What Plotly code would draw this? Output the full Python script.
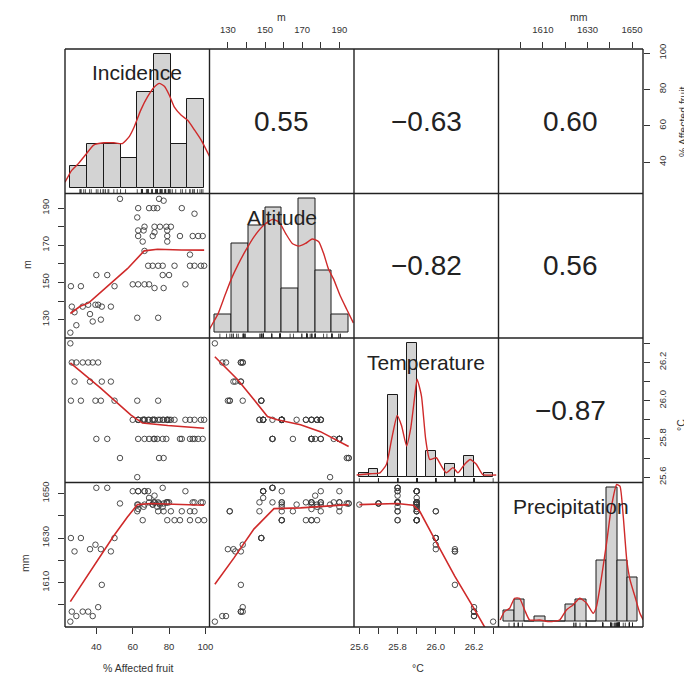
import plotly.graph_objects as go
from plotly.subplots import make_subplots

# ---------------- data: one entry per observation ----------------
incidence = [25.7, 26.5, 29, 32.5, 35.5, 38, 41, 28, 36.5, 43, 48, 26, 31.5, 39.5, 42.5, 50,
             62.5, 74, 40, 46, 53, 74.5, 77, 62.5,
             63, 69, 71.5, 73.5, 87, 94, 66.5, 72, 75, 78.5, 81, 63, 66, 72, 79,
             63, 71, 79, 86, 93, 96, 98.5, 65.5, 79, 66.5, 91.5,
             68.5, 71, 74, 76.5, 83, 91.5, 94, 97.5, 99.3, 76.5, 80,
             60, 63, 66.5, 69, 72, 77, 89]
altitude = [123, 137, 127, 137, 138, 129, 138, 134, 133, 137, 137, 148, 148, 138, 130, 148,
            131, 131, 154, 154, 195, 195, 194, 185,
            190, 190, 190, 190, 190, 187, 180, 180, 180, 180, 180, 178, 178, 177, 178,
            175, 175, 175, 175, 175, 175, 175, 172, 172, 167, 165,
            159, 159, 159, 159, 159, 159, 159, 159, 159, 154, 154,
            149, 149, 149, 149, 147, 147, 149]
temperature = [26.3, 26.2, 26.2, 26.2, 26.2, 26.2, 26.2, 26.1, 26.1, 26.1, 26.1, 26.0, 26.0, 26.0, 26.0, 26.0,
               26.0, 26.0, 25.8, 25.8, 25.7, 25.7, 25.7, 25.6,
               25.8, 25.8, 25.8, 25.8, 25.8, 25.8, 25.8, 25.9, 25.9, 25.8, 25.9, 25.9, 25.9, 25.8, 25.9,
               25.9, 25.9, 25.9, 25.8, 25.8, 25.8, 25.8, 25.9, 25.9, 25.9, 25.8,
               25.9, 25.9, 25.9, 25.9, 25.9, 25.9, 25.9, 25.9, 25.9, 25.8, 25.9,
               25.9, 25.9, 25.9, 25.9, 25.9, 25.9, 25.9]
precipitation = [1592.5, 1597, 1595, 1597, 1597, 1595, 1599, 1624, 1625, 1609, 1624, 1630, 1630, 1627, 1625, 1630,
                 1642, 1642, 1652.5, 1652.5, 1645.5, 1645.5, 1645.5, 1645,
                 1651, 1646, 1646, 1644, 1642, 1646, 1651, 1646, 1645, 1646, 1642, 1645, 1644, 1649, 1638,
                 1643, 1645, 1646, 1638, 1646, 1638, 1646, 1638, 1646, 1645, 1642,
                 1651, 1645, 1646, 1644, 1638, 1638, 1642, 1646, 1638, 1652.5, 1646,
                 1651, 1651, 1651, 1648, 1646, 1642, 1651]

var_labels = ["Incidence", "Altitude", "Temperature", "Precipitation"]
unit_labels = ["% Affected fruit", "m", "\u00b0C", "mm"]

# correlation coefficients printed in the upper panels
corr_cells = [(0, 1), (0, 2), (0, 3), (1, 2), (1, 3), (2, 3)]
corr_texts = ["0.55", "\u22120.63", "0.60", "\u22120.82", "0.56", "\u22120.87"]

# histogram bins / heights (diagonal panels)
inc_edges = [20, 30, 40, 50, 60, 70, 80, 90, 100]
inc_counts = [3, 6, 6, 4, 13, 18, 6, 12]
alt_edges = [120, 130, 140, 150, 160, 170, 180, 190, 200]
alt_counts = [2, 10, 12, 14, 5, 15, 7, 2]
temp_edges = [25.60, 25.65, 25.70, 25.75, 25.80, 25.85, 25.90, 25.95, 26.00, 26.05, 26.10, 26.15, 26.20, 26.25, 26.30]
temp_counts = [1, 2, 0, 19, 0, 31, 0, 6, 0, 3, 0, 5, 0, 1]
prec_edges = [1590, 1595, 1600, 1605, 1610, 1615, 1620, 1625, 1630, 1635, 1640, 1645, 1650, 1655]
prec_counts = [2, 4, 0, 1, 0, 0, 3, 4, 0, 11, 24, 11, 8]

# density curves (red) on the diagonal, heights in histogram units
inc_dens_x = [16.8, 20.8, 24.8, 29.5, 33.9, 40.0, 46.0, 51.1, 55.1, 58.1, 62.1, 66.2, 70.2, 73.2,
              76.2, 79.2, 82.2, 86.3, 90.3, 94.3, 98.4, 103.4]
inc_dens_y = [0.8, 2.4, 3.3, 4.6, 5.8, 6.1, 6.1, 6.0, 6.9, 8.2, 10.5, 12.3, 13.6, 14.1,
              13.7, 12.5, 10.9, 9.8, 9.1, 7.8, 6.4, 4.2]
alt_dens_x = [116.8, 118.0, 121.9, 125.9, 129.8, 133.8, 138.7, 143.6, 149.5, 154.5, 158.4, 162.4, 166.3,
              170.2, 174.2, 178.2, 182.1, 185.0, 188.0, 191.0, 195.0, 198.9, 202.8]
alt_dens_y = [0.4, 0.8, 2.1, 4.1, 6.0, 7.6, 9.3, 10.8, 12.1, 12.7, 12.4, 11.1, 10.0,
              9.7, 10.0, 10.5, 10.2, 8.9, 7.1, 6.0, 4.1, 2.6, 1.1]
temp_dens_x = [25.586, 25.655, 25.708, 25.742, 25.769, 25.798, 25.821, 25.847, 25.868, 25.890, 25.902,
               25.925, 25.947, 25.968, 26.003, 26.029, 26.055, 26.090, 26.116, 26.151, 26.180, 26.212,
               26.246, 26.316]
temp_dens_y = [0.5, 0.8, 1.0, 3.0, 8.8, 14.3, 11.9, 7.2, 11.1, 18.8, 22.7,
               18.8, 8.8, 4.1, 4.5, 2.6, 1.0, 2.2, 1.0, 3.0, 4.1, 3.0,
               0.6, 0.5]
prec_dens_x = [1588.2, 1590.3, 1592.8, 1595.2, 1597.6, 1600.1, 1602.5, 1607.4, 1612.3, 1617.1, 1620.4,
               1623.6, 1626.9, 1630.2, 1633.4, 1635.0, 1637.5, 1639.9, 1642.3, 1644.8, 1646.4, 1648.0,
               1649.7, 1651.3, 1653.7, 1656.1, 1657.7]
prec_dens_y = [0.3, 1.8, 2.4, 4.2, 4.2, 2.1, 0.3, 0.3, 0.0, 0.3, 2.1,
               3.0, 4.2, 3.3, 1.5, 2.7, 8.1, 14.1, 20.7, 24.6, 24.3, 18.9,
               11.1, 7.5, 4.5, 1.5, 0.3]

# smooth (lowess) lines in the lower panels, keyed by (row, col)
smooth_cells = [(1, 0), (2, 0), (2, 1), (3, 0), (3, 1), (3, 2)]
smooth_x = [
    [25.7, 31.1, 35.8, 46.0, 57.1, 66.3, 73.7, 86.7, 99.3],
    [25.7, 42.2, 58.9, 65.4, 79.3, 99.3],
    [123, 135.2, 144.1, 151.3, 156.6, 169.1, 179.8, 195],
    [25.7, 34.9, 42.2, 49.6, 57.1, 62.6, 70.0, 86.7, 99.3],
    [123, 133.4, 144.1, 154.8, 169.1, 186.9, 195],
    [25.6, 25.798, 25.881, 25.916, 26.003, 26.099, 26.194, 26.3],
]
smooth_y = [
    [133.3, 137.2, 139.0, 147.7, 157.4, 167.0, 167.9, 167.5, 167.4],
    [26.198, 26.067, 25.926, 25.883, 25.870, 25.856],
    [26.23, 26.111, 26.005, 25.917, 25.900, 25.874, 25.838, 25.760],
    [1601.5, 1612.9, 1622.0, 1631.0, 1639.4, 1645.0, 1645.5, 1645.0, 1644.7],
    [1609.3, 1621.2, 1634.1, 1643.2, 1643.5, 1644.4, 1645.0],
    [1645.0, 1645.5, 1644.7, 1642.0, 1628.0, 1612.9, 1599.2, 1583.5],
]

# axis ticks
inc_tickvals = [40, 60, 80, 100]
inc_ticktext = ["40", "60", "80", "100"]
alt_tickvals = [130, 140, 150, 160, 170, 180, 190]
alt_ticktext = ["130", "", "150", "", "170", "", "190"]
temp_tickvals = [25.6, 25.7, 25.8, 25.9, 26.0, 26.1, 26.2, 26.3]
temp_ticktext = ["25.6", "", "25.8", "", "26.0", "", "26.2", ""]
prec_tickvals = [1590, 1600, 1610, 1620, 1630, 1640, 1650]
prec_ticktext = ["1590", "", "1610", "", "1630", "", "1650"]

# ---------------- figure ----------------
FONT = "Liberation Sans, Arial, sans-serif"
RED = "#cf2a2a"
OFF = 8                                    # page body margin of the html page
W, H = 692 - OFF, 678 - OFF
GL, GR, GT, GB = 65 - OFF, 643 - OFF, 49 - OFF, 627 - OFF   # grid box in figure pixels
GW, GH = GR - GL, GB - GT


def to_paper(page_x, page_y):
    return (page_x - OFF - GL) / GW, (GB - (page_y - OFF)) / GH


def ext(lo, hi, f=0.04):
    d = hi - lo
    return [lo - f * d, hi + f * d]


variables = [incidence, altitude, temperature, precipitation]
edges = [inc_edges, alt_edges, temp_edges, prec_edges]
counts = [inc_counts, alt_counts, temp_counts, prec_counts]
dens = [(inc_dens_x, inc_dens_y), (alt_dens_x, alt_dens_y),
        (temp_dens_x, temp_dens_y), (prec_dens_x, prec_dens_y)]
ticks = [(inc_tickvals, inc_ticktext), (alt_tickvals, alt_ticktext),
         (temp_tickvals, temp_ticktext), (prec_tickvals, prec_ticktext)]

pair_ranges = [ext(min(v), max(v)) for v in variables]
hist_xr = [ext(e[0], e[-1]) for e in edges]
hist_yr = [ext(0, max(c)) for c in counts]

fig = make_subplots(rows=4, cols=4, horizontal_spacing=0, vertical_spacing=0)

axis_ranges = {}
for r in range(4):
    for c in range(4):
        if r == c:
            xr, yr = hist_xr[r], hist_yr[r]
            e, cnt = edges[r], counts[r]
            centers = [(e[i] + e[i + 1]) / 2 for i in range(len(cnt))]
            widths = [e[i + 1] - e[i] for i in range(len(cnt))]
            fig.add_trace(go.Bar(x=centers, y=cnt, width=widths,
                                 marker=dict(color="#d3d3d3", line=dict(color="#1a1a1a", width=1)),
                                 hoverinfo="skip"), row=r + 1, col=c + 1)
            fig.add_trace(go.Scatter(x=dens[r][0], y=dens[r][1], mode="lines",
                                     line=dict(color=RED, width=1.4, shape="spline", smoothing=0.5),
                                     hoverinfo="skip"), row=r + 1, col=c + 1)
            y0 = yr[0]
            y1 = yr[0] + 0.03 * (yr[1] - yr[0])
            rx, ry = [], []
            for v in variables[r]:
                rx += [v, v, None]
                ry += [y0, y1, None]
            fig.add_trace(go.Scatter(x=rx, y=ry, mode="lines",
                                     line=dict(color="#222222", width=0.8), hoverinfo="skip"),
                          row=r + 1, col=c + 1)
        else:
            xr, yr = pair_ranges[c], pair_ranges[r]
            if r > c:
                fig.add_trace(go.Scatter(x=variables[c], y=variables[r], mode="markers",
                                         marker=dict(symbol="circle-open", size=5.5, color="#3a3a3a",
                                                     line=dict(width=0.9)),
                                         hoverinfo="skip"), row=r + 1, col=c + 1)
            else:
                # invisible anchor so the empty correlation panel keeps its axes
                fig.add_trace(go.Scatter(x=[sum(xr) / 2], y=[sum(yr) / 2], mode="markers",
                                         marker=dict(opacity=0), hoverinfo="skip"),
                              row=r + 1, col=c + 1)
        axis_ranges[(r, c)] = (xr, yr)

for (r, c), sx, sy in zip(smooth_cells, smooth_x, smooth_y):
    fig.add_trace(go.Scatter(x=sx, y=sy, mode="lines", line=dict(color=RED, width=1.6),
                             hoverinfo="skip"), row=r + 1, col=c + 1)

base_axis = dict(showgrid=False, zeroline=False, showticklabels=False, ticks="",
                 showline=False, fixedrange=True)
for (r, c), (xr, yr) in axis_ranges.items():
    k = r * 4 + c + 1
    sfx = "" if k == 1 else str(k)
    fig.layout["xaxis" + sfx].update(range=xr, **base_axis)
    fig.layout["yaxis" + sfx].update(range=yr, **base_axis)

tick_style = dict(ticks="outside", ticklen=6, tickwidth=1, tickcolor="#333333",
                  showticklabels=True, tickfont=dict(size=9.5, color="#333333", family=FONT))

# (axis name, variable index, side)
outer_axes = [("xaxis2", 1, "top"), ("xaxis4", 3, "top"),
              ("xaxis13", 0, "bottom"), ("xaxis15", 2, "bottom"),
              ("yaxis5", 1, "left"), ("yaxis13", 3, "left"),
              ("yaxis4", 0, "right"), ("yaxis12", 2, "right")]
for name, vi, side in outer_axes:
    tv, tt = ticks[vi]
    upd = dict(side=side, tickvals=tv, ticktext=tt, ticklabelstandoff=5, **tick_style)
    if name.startswith("y"):
        upd["tickangle"] = -90
    fig.layout[name].update(**upd)

annotations = []
for (r, c), txt in zip(corr_cells, corr_texts):
    annotations.append(dict(x=(c + 0.5) / 4, y=1 - (r + 0.5) / 4, xref="paper", yref="paper",
                            xanchor="center", yanchor="middle",
                            text=txt, showarrow=False,
                            font=dict(size=28, color="#222222", family=FONT)))
for i, name in enumerate(var_labels):
    annotations.append(dict(x=(i + 0.5) / 4, y=1 - (i * GH / 4 + 24) / GH, xref="paper", yref="paper",
                            xanchor="center", yanchor="middle",
                            text=name, showarrow=False,
                            font=dict(size=21, color="#222222", family=FONT)))

# unit titles: (variable index, page x, page y, angle, vertical anchor)
title_specs = [(1, 281, 9, 0, "top"), (3, 579, 9, 0, "top"),
               (0, 683, 122, -90, "middle"), (2, 681, 425, -90, "middle"),
               (1, 27, 265, -90, "middle"), (3, 25, 563, -90, "middle"),
               (0, 138, 668, 0, "middle"), (2, 418, 668, 0, "middle")]
for vi, px, py, ang, ya in title_specs:
    x, y = to_paper(px, py)
    annotations.append(dict(x=x, y=y, xref="paper", yref="paper", text=unit_labels[vi],
                            xanchor="center", yanchor=ya,
                            showarrow=False, textangle=ang,
                            font=dict(size=10.5, color="#333333", family=FONT)))

shapes = []
for i in range(5):
    shapes.append(dict(type="line", xref="paper", yref="paper", x0=i / 4, x1=i / 4, y0=0, y1=1,
                       line=dict(color="#222222", width=1.4), layer="above"))
    shapes.append(dict(type="line", xref="paper", yref="paper", x0=0, x1=1, y0=i / 4, y1=i / 4,
                       line=dict(color="#222222", width=1.4), layer="above"))

fig.update_layout(width=W, height=H, margin=dict(l=GL, r=W - GR, t=GT, b=H - GB),
                  paper_bgcolor="white", plot_bgcolor="white", showlegend=False,
                  annotations=annotations, shapes=shapes, bargap=0,
                  font=dict(family=FONT))

fig.write_html("out.html")
